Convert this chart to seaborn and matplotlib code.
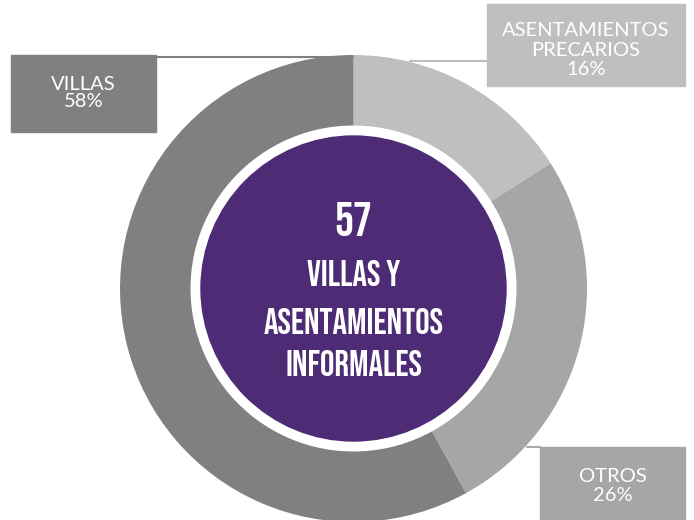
import matplotlib
matplotlib.use("Agg")
import matplotlib.pyplot as plt
import matplotlib.patches as mpatches
import seaborn as sns

# Datos
categorias = ["ASENTAMIENTOS\nPRECARIOS", "OTROS", "VILLAS"]
porcentajes = [16, 26, 58]
colores = ["#BFBFBF", "#A6A6A6", "#808080"]
total_villas = "57"
titulo_centro = ["VILLAS Y", "ASENTAMIENTOS", "INFORMALES"]

sns.set_theme(style="white")
plt.rcParams["font.family"] = ["Lato", "DejaVu Sans"]

fig = plt.figure(figsize=(6.94, 5.2), dpi=100)
ax = fig.add_axes([0, 0, 1, 1])

# Coordenadas en pixeles (y hacia arriba)
cx, cy = 353.5, 520 - 288.5
R = 233.5
ancho = 70.5

ax.pie(porcentajes, colors=colores, startangle=90, counterclock=False,
       radius=R, center=(cx, cy), wedgeprops=dict(width=ancho, linewidth=0))

# Circulo central
ax.add_patch(mpatches.Circle((cx, cy), 152.5, color="#4E2B75", zorder=3))

cond = ["Bebas Neue", "DejaVu Sans"]
ax.text(cx, 520 - 219, total_villas, ha="center", va="center", color="white",
        fontsize=34, family=cond, zorder=4)
for txt, y in zip(titulo_centro, [273, 321, 363]):
    ax.text(cx, 520 - y, txt, ha="center", va="center", color="white",
            fontsize=26, family=cond, zorder=4)

# Cajas de etiquetas: (x0, y0, x1, y1) en pixeles desde arriba
cajas = [(487, 4, 685, 86), (540, 447, 685, 522), (11, 55, 156, 132)]
lineas = [((410, 487), 61), ((527, 540), 447), ((156, 353), 57)]
centros_y = [50, 486, 93]
espaciado = [1.2, 1.2, 1.05]
for cat, pct, col, (x0, y0, x1, y1), (xs, yl), yc, ls in zip(categorias, porcentajes, colores,
                                                             cajas, lineas, centros_y, espaciado):
    ax.add_patch(mpatches.Rectangle((x0, 520 - y1), x1 - x0, y1 - y0,
                                    color=col, zorder=2, clip_on=False))
    ax.plot(xs, [520 - yl, 520 - yl], color=col, lw=1.5, zorder=1)
    ax.text((x0 + x1) / 2, 520 - yc, f"{cat}\n{pct}%", ha="center", va="center",
            color="white", fontsize=14.5, fontweight="normal", linespacing=ls, zorder=4)

ax.set_xlim(0, 694)
ax.set_ylim(0, 520)
ax.set_aspect("equal")
ax.axis("off")

fig.savefig("out.png", dpi=100)
